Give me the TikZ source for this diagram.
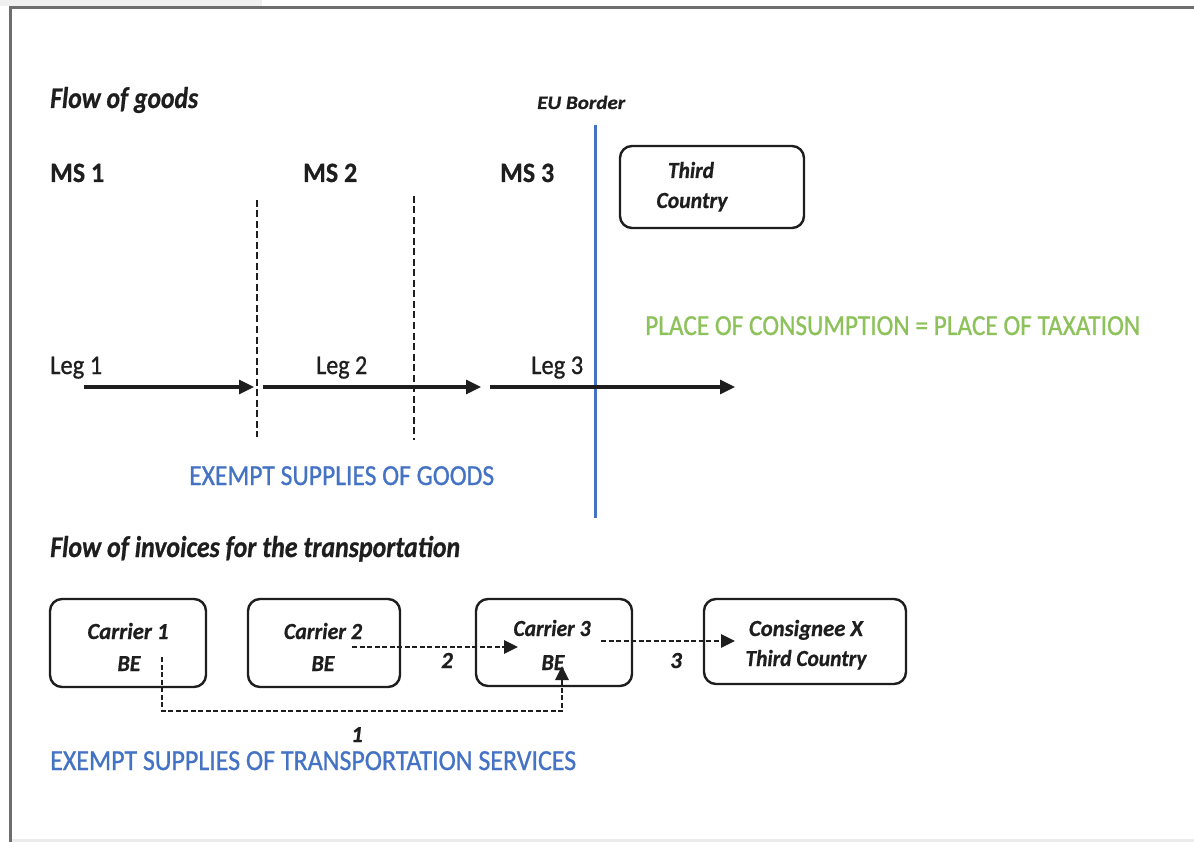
\documentclass[tikz,border=0pt]{standalone}
\usepackage{fontspec}
\usepackage{graphicx}
\setmainfont{Carlito}
\newfontfamily\thickfont{Carlito}[FakeBold=0.9]
\newfontfamily\heavyfont{Carlito}[FakeBold=0.7]
\usetikzlibrary{arrows.meta}
% squeeze a text horizontally to a given width, keeping its height
\newcommand\fitx[2]{\resizebox{#1}{\height}{#2}}
\definecolor{ink}{HTML}{1E1E1E}
\definecolor{eublue}{HTML}{4472C4}
\definecolor{taxgreen}{HTML}{8DC25A}
\definecolor{framegray}{HTML}{6E6E6E}
\begin{document}
\begin{tikzpicture}[x=1pt,y=-1pt,
  lbl/.style={inner sep=0pt,text=ink},
  heading/.style={lbl,anchor=base west,font=\fontsize{30}{30}\heavyfont\bfseries\itshape},
  ms/.style={lbl,anchor=base west,font=\fontsize{28}{30}\heavyfont\bfseries},
  leg/.style={lbl,anchor=base west,font=\fontsize{27}{30}\thickfont},
  note/.style={inner sep=0pt,anchor=base west,font=\fontsize{29}{30}\thickfont},
  boxtxt/.style={lbl,anchor=base,font=\fontsize{23}{24}\heavyfont\bfseries\itshape},
  party/.style={draw=ink,line width=2.4pt,rounded corners=12pt,inner sep=0pt},
  legarrow/.style={draw=ink,line width=3.2pt,-{Triangle[length=15pt,width=14pt]}},
  msline/.style={draw=ink,line width=2.2pt,dash pattern=on 7pt off 3.5pt},
  invarrow/.style={draw=ink,line width=2.8pt,dash pattern=on 5pt off 2.5pt,-{Triangle[length=14pt,width=13pt]}}]
\useasboundingbox (0,0) rectangle (1194,842);
\fill[white] (0,0) rectangle (1194,842);
\fill[black!6] (0,0) rectangle (262,6);
\fill[black!8] (10,839) rectangle (1194,842);
\draw[framegray,line width=3pt] (10,842) -- (10,8) -- (1194,8);

% ---------------- flow of goods ----------------
\node[heading] (hgoods) at (50,108) {\fitx{148pt}{Flow of goods}};
\node[ms] (ms1) at (50,182) {\fitx{54pt}{MS 1}};
\node[ms] (ms2) at (303,182) {\fitx{54pt}{MS 2}};
\node[ms] (ms3) at (500,182) {\fitx{54pt}{MS 3}};
\node[lbl,anchor=base west,font=\fontsize{19}{20}\heavyfont\bfseries\itshape] (eub) at (537,109) {\fitx{88pt}{EU Border}};

% EU border
\coordinate (bt) at (595,125);
\coordinate (bb) at (595,518);
\draw[eublue,line width=3pt] (bt) -- (bb);

% third country box
\node[party,minimum width=184pt,minimum height=82pt] (third) at (712,187) {};
\node[boxtxt] (thirdA) at (691,178) {\fitx{46pt}{Third}};
\node[boxtxt] (thirdB) at (692,208) {\fitx{71pt}{Country}};

% member state borders
\coordinate (d1t) at (257,200); \coordinate (d1b) at (257,437);
\coordinate (d2t) at (414,196); \coordinate (d2b) at (414,440);
\draw[msline] (d1t) -- (d1b);
\draw[msline] (d2t) -- (d2b);

% legs of the transport
\coordinate (l1a) at (84,387);  \coordinate (l1b) at (254,387);
\coordinate (l2a) at (263,387); \coordinate (l2b) at (481,387);
\coordinate (l3a) at (490,387); \coordinate (l3b) at (735,387);
\draw[legarrow] (l1a) -- (l1b);
\draw[legarrow] (l2a) -- (l2b);
\draw[legarrow] (l3a) -- (l3b);
\node[leg] (leg1) at (50,374) {\fitx{52pt}{Leg 1}};
\node[leg] (leg2) at (316,374) {\fitx{51pt}{Leg 2}};
\node[leg] (leg3) at (531,374) {\fitx{52pt}{Leg 3}};

\node[note,text=taxgreen] (place) at (645,335) {\fitx{495pt}{PLACE OF CONSUMPTION = PLACE OF TAXATION}};
\node[note,text=eublue] (exg) at (189,485) {\fitx{305pt}{EXEMPT SUPPLIES OF GOODS}};

% ---------------- flow of invoices ----------------
\node[heading] (hinv) at (50,557) {\fitx{410pt}{Flow of invoices for the transportation}};

\node[party,minimum width=156pt,minimum height=88pt] (c1) at (128,643) {};
\node[party,minimum width=152pt,minimum height=88pt] (c2) at (324,643) {};
\node[party,minimum width=156pt,minimum height=87pt] (c3) at (554,642.5) {};
\node[party,minimum width=202pt,minimum height=85pt] (cx) at (805,641.5) {};

\node[boxtxt] (c1a) at (128,639) {\fitx{81pt}{Carrier 1}};
\node[boxtxt] (c1b) at (129,671) {\fitx{23pt}{BE}};
\node[boxtxt] (c2a) at (323,639) {\fitx{78pt}{Carrier 2}};
\node[boxtxt] (c2b) at (323,671) {\fitx{23pt}{BE}};
\node[boxtxt] (c3a) at (552,636) {\fitx{77pt}{Carrier 3}};
\node[boxtxt] (c3b) at (553,670) {\fitx{23pt}{BE}};
\node[boxtxt] (cxa) at (806,636) {\fitx{114pt}{Consignee X}};
\node[boxtxt] (cxb) at (806,666) {\fitx{121pt}{Third Country}};

% invoice 2: carrier 2 -> carrier 3
\coordinate (i2a) at (352,647);
\coordinate (i2b) at (518,647);
\draw[invarrow] (i2a) -- (i2b);
\node[boxtxt] (n2) at (447,668) {2};

% invoice 3: carrier 3 -> consignee
\coordinate (i3a) at (601,641);
\coordinate (i3b) at (735,641);
\draw[invarrow] (i3a) -- (i3b);
\node[boxtxt] (n3) at (676,668) {3};

% invoice 1: carrier 1 -> carrier 3, routed below
\coordinate (i1a) at (162,657);
\coordinate (i1b) at (562,666);
\draw[invarrow] (i1a) -- (162,711) -- (562,711) -- (i1b);
\node[boxtxt] (n1) at (357,742) {1};

\node[note,text=eublue] (exs) at (50,770) {\fitx{526pt}{EXEMPT SUPPLIES OF TRANSPORTATION SERVICES}};
\end{tikzpicture}
\end{document}
